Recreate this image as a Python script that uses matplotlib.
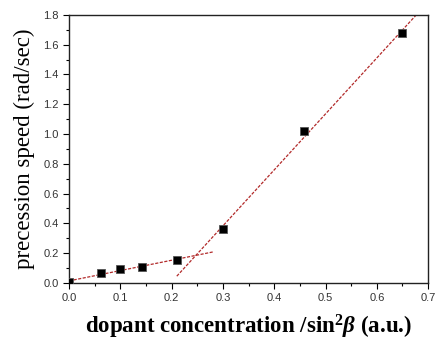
import numpy as np
import matplotlib
matplotlib.use("Agg")
import matplotlib.pyplot as plt
from matplotlib.ticker import MultipleLocator, FormatStrFormatter

plt.rcParams["mathtext.fontset"] = "custom"
plt.rcParams["mathtext.rm"] = "Liberation Serif:bold"
plt.rcParams["mathtext.bf"] = "Liberation Serif:bold"
plt.rcParams["mathtext.it"] = "Liberation Serif:italic:bold"

x_data = [0.0, 0.063, 0.10, 0.143, 0.21, 0.30, 0.458, 0.65]
y_data = [0.005, 0.065, 0.09, 0.11, 0.155, 0.36, 1.02, 1.68]
low_idx = [0, 1, 2, 3, 4]
high_idx = [5, 6, 7]
low_range = [0.0, 0.28]
high_range = [0.21, 0.69]

fig = plt.figure(figsize=(4.4, 3.4), dpi=100)
ax = fig.add_axes([0.157, 0.168, 0.816, 0.788])

x = np.array(x_data); y = np.array(y_data)
for idx, rng in ((low_idx, low_range), (high_idx, high_range)):
    p = np.polyfit(x[idx], y[idx], 1)
    xs = np.array(rng)
    ax.plot(xs, np.polyval(p, xs), ls=(0, (2.5, 1.2)), color="#b22a2a", lw=0.9, zorder=2)

ax.plot(x, y, ls="none", marker="s", ms=6, mfc="black", mec="#555555", mew=0.6, zorder=3)

ax.set_xlim(0, 0.7)
ax.set_ylim(0, 1.8)
ax.xaxis.set_major_locator(MultipleLocator(0.1))
ax.xaxis.set_minor_locator(MultipleLocator(0.05))
ax.yaxis.set_major_locator(MultipleLocator(0.2))
ax.yaxis.set_minor_locator(MultipleLocator(0.1))
ax.xaxis.set_major_formatter(FormatStrFormatter("%.1f"))
ax.yaxis.set_major_formatter(FormatStrFormatter("%.1f"))
ax.tick_params(which="both", direction="out", top=False, right=False,
               labelsize=8, labelcolor="#333333", width=0.8)
ax.tick_params(which="major", length=4)
ax.tick_params(which="minor", length=2.5)
for t in ax.get_xticklabels() + ax.get_yticklabels():
    t.set_fontfamily("Liberation Sans")
for s in ax.spines.values():
    s.set_linewidth(1.0)
    s.set_color("#222222")

ax.set_xlabel(r"dopant concentration /sin$^{2}\mathit{\beta}$ (a.u.)",
              fontfamily="Liberation Serif", fontweight="bold", fontsize=16.5, labelpad=7)
ax.set_ylabel("precession speed (rad/sec)", fontfamily="Liberation Serif", fontsize=16.5, labelpad=6)

fig.savefig("out.png", dpi=100)
